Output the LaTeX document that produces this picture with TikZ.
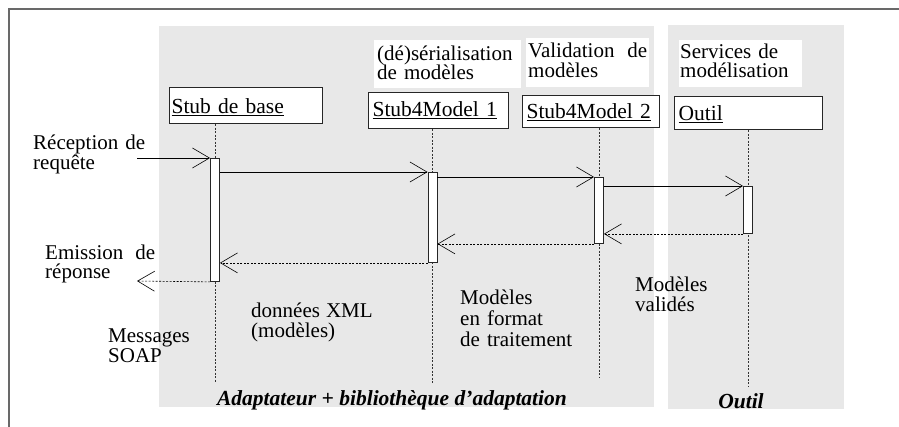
\documentclass[tikz,border=0pt]{standalone}
\usepackage{fontspec}
\setmainfont{Liberation Serif}
\usetikzlibrary{arrows.meta}
\definecolor{panel}{RGB}{232,232,232}
\definecolor{framec}{RGB}{105,105,105}
\newcommand{\fsz}{\fontsize{21pt}{20pt}\selectfont}
\newcommand{\fbx}{\fontsize{21.5pt}{21pt}\selectfont}
\begin{document}
\begin{tikzpicture}[x=1pt,y=-1pt,
  obj/.style={draw=black!85, line width=1.1pt, fill=white, anchor=north west, inner xsep=2pt, inner ysep=0pt, align=left, font=\fbx},
  bar/.style={draw=black!85, line width=0.9pt, fill=white, minimum width=9pt, inner sep=0pt, anchor=north},
  life/.style={line width=0.7pt, dash pattern=on 2pt off 1.5pt, black!80},
  msg/.style={line width=0.6pt, -{Straight Barb[length=17pt,width=20pt,line width=0.6pt]}},
  ret/.style={msg, dash pattern=on 2pt off 1.5pt},
  lbl/.style={anchor=base west, align=left, inner sep=0pt, font=\fsz},
  head/.style={fill=white, anchor=north west, inner ysep=0pt, align=left, font=\fsz},
  group/.style={anchor=base, inner sep=0pt, font=\fbx\bfseries\itshape}]
\useasboundingbox (0,0) rectangle (899,427);
% frame
\draw[framec, line width=1.5pt] (9,427) -- (9,9) -- (899,9);
% panels
\fill[panel] (159,26) rectangle (654,407);
\fill[panel] (668,25) rectangle (844,409);
% headers
\node[head, inner xsep=3pt, text width=141pt, text height=20pt, text depth=28pt] (h1) at (374,40) {(dé)sérialisation\\[-1pt]de modèles};
\node[head, inner xsep=2pt, text width=119pt, text height=19pt, text depth=30pt] (h2) at (526,38) {Validation\hfill de\\modèles};
\node[head, inner xsep=1pt, text width=121pt, text height=18pt, text depth=29pt] (h3) at (679,40) {Services de\\[-1pt]modélisation};
% objects
\node[obj, text width=149pt, text height=26pt, text depth=10pt] (sb) at (169,87) {\underline{Stub de base}};
\node[obj, inner xsep=4pt, text width=132pt, text height=24pt, text depth=12pt] (s1) at (368,92) {\underline{Stub4Model 1}};
\node[obj, inner xsep=4pt, text width=129pt, text height=23pt, text depth=9pt] (s2) at (522,95) {\underline{Stub4Model 2}};
\node[obj, inner xsep=4pt, text width=140pt, text height=24pt, text depth=9pt] (ou) at (674,96) {\underline{Outil}};
% lifelines
\coordinate (e0) at (215,382);
\coordinate (e1) at (432.5,383);
\coordinate (e2) at (599,378);
\coordinate (e3) at (748,387);
\draw[life] (sb.south -| e0) -- (e0);
\draw[life] (s1.south -| e1) -- (e1);
\draw[life] (s2.south -| e2) -- (e2);
\draw[life] (ou.south -| e3) -- (e3);
% activation bars
\node[bar, minimum height=123pt] (b0) at (215,158) {};
\node[bar, minimum height=90pt] (b1) at (432.5,172) {};
\node[bar, minimum height=66pt] (b2) at (599,177) {};
\node[bar, minimum height=47pt] (b3) at (748,186) {};
% messages
\coordinate (in) at (137,158);
\coordinate (out) at (137,281);
\draw[msg] (in) -- (in -| b0.west);
\draw[msg] (b0.east |- b1.north) -- (b1.north west);
\draw[msg] (b1.east |- b2.north) -- (b2.north west);
\draw[msg] (b2.east |- b3.north) -- (b3.north west);
\draw[ret] (b3.south west) -- (b2.east |- b3.south);
\draw[ret] (b2.south west) -- (b1.east |- b2.south);
\draw[ret] (b1.south west) -- (b0.east |- b1.south);
\draw[ret] (b0.south west) -- (out);
% labels
\node[lbl, text width=120pt] (t1) at (33,150) {Réception de\\[0pt]requête};
\node[lbl, text width=110pt] (t2) at (45,260) {Emission\hfill de\\[-1pt]réponse};
\node[lbl, text width=90pt] (t3) at (108,343) {Messages\\SOAP};
\node[lbl, text width=140pt] (t4) at (251,318) {données\hspace{6pt}XML\\(modèles)};
\node[lbl, text width=130pt] (t5) at (460,305) {Modèles\\[1pt]en format\\[1pt]de traitement};
\node[lbl, text width=100pt] (t6) at (635,292) {Modèles\\validés};
\node[group] (g1) at (392,405) {Adaptateur + bibliothèque d’adaptation};
\node[group] (g2) at (741,408) {Outil};
\end{tikzpicture}
\end{document}
